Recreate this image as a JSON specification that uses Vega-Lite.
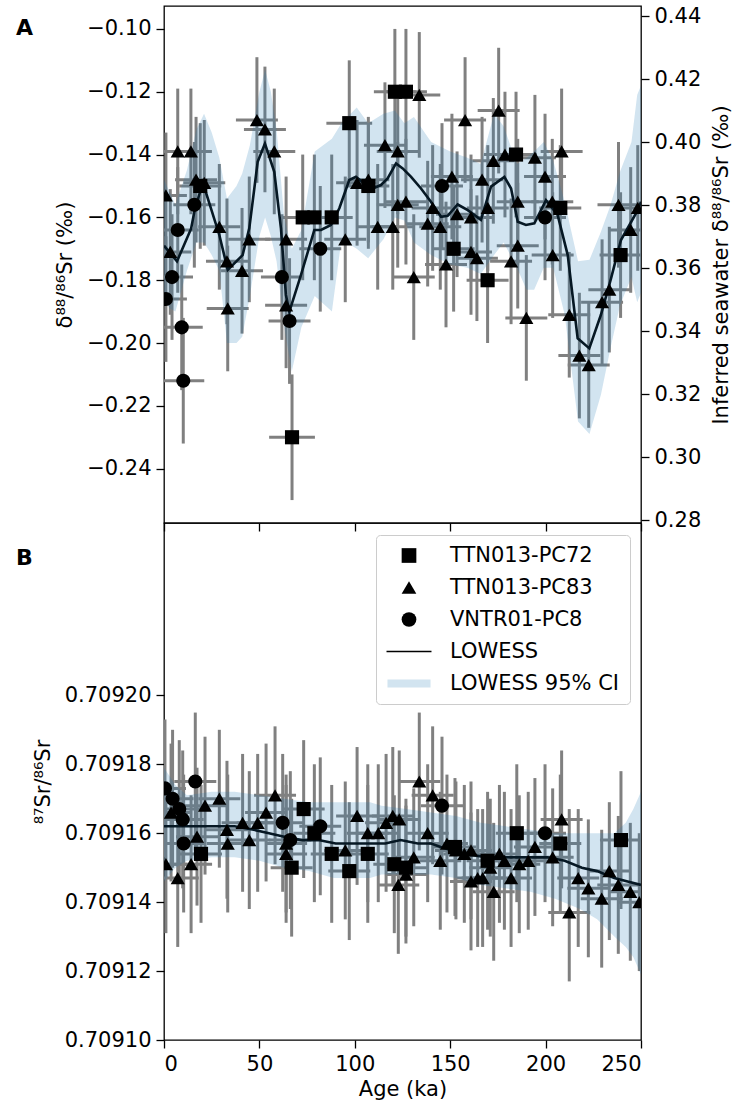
{
  "$schema": "https://vega.github.io/schema/vega-lite/v6.json",
  "padding": {"left": 15, "top": 4, "right": 0, "bottom": 0},
  "bounds": "flush",
  "spacing": 0,
  "config": {
    "font": "DejaVu Sans",
    "view": {"stroke": "#000000", "strokeWidth": 1.3},
    "axis": {
      "grid": false, "domain": false,
      "tickColor": "#000000", "tickSize": 8, "tickWidth": 1.3,
      "labelFont": "DejaVu Sans", "labelFontSize": 21, "labelColor": "#000000", "labelPadding": 5,
      "titleFont": "DejaVu Sans", "titleFontSize": 21, "titleFontWeight": "normal", "titleColor": "#000000"
    },
    "legend": {
      "labelFont": "DejaVu Sans", "labelFontSize": 21, "labelColor": "#000000", "labelLimit": 0,
      "symbolSize": 216, "symbolStrokeWidth": 0
    }
  },
  "datasets": {
    "pa": [
      {"c": "TTN013-PC83", "t": 1.0, "t0": -10, "t1": 12, "v": -0.153, "v0": -0.173, "v1": -0.133},
      {"c": "TTN013-PC83", "t": 3.3, "t0": -7.7, "t1": 14.3, "v": -0.171, "v0": -0.191, "v1": -0.151},
      {"c": "TTN013-PC83", "t": 7.2, "t0": -3.8, "t1": 18.2, "v": -0.139, "v0": -0.159, "v1": -0.119},
      {"c": "TTN013-PC83", "t": 14.1, "t0": 3.1, "t1": 25.1, "v": -0.139, "v0": -0.159, "v1": -0.119},
      {"c": "TTN013-PC83", "t": 16.8, "t0": 5.8, "t1": 27.8, "v": -0.148, "v0": -0.168, "v1": -0.128},
      {"c": "TTN013-PC83", "t": 21.1, "t0": 10.1, "t1": 32.1, "v": -0.149, "v0": -0.169, "v1": -0.129},
      {"c": "TTN013-PC83", "t": 29.0, "t0": 18, "t1": 40, "v": -0.163, "v0": -0.183, "v1": -0.143},
      {"c": "TTN013-PC83", "t": 33.0, "t0": 22, "t1": 44, "v": -0.174, "v0": -0.194, "v1": -0.154},
      {"c": "TTN013-PC83", "t": 33.4, "t0": 22.4, "t1": 44.4, "v": -0.189, "v0": -0.209, "v1": -0.169},
      {"c": "TTN013-PC83", "t": 40.9, "t0": 29.9, "t1": 51.9, "v": -0.177, "v0": -0.197, "v1": -0.157},
      {"c": "TTN013-PC83", "t": 44.7, "t0": 33.7, "t1": 55.7, "v": -0.167, "v0": -0.187, "v1": -0.147},
      {"c": "TTN013-PC83", "t": 48.7, "t0": 37.7, "t1": 59.7, "v": -0.129, "v0": -0.149, "v1": -0.109},
      {"c": "TTN013-PC83", "t": 52.9, "t0": 41.9, "t1": 63.9, "v": -0.132, "v0": -0.152, "v1": -0.112},
      {"c": "TTN013-PC83", "t": 57.8, "t0": 46.8, "t1": 68.8, "v": -0.139, "v0": -0.159, "v1": -0.119},
      {"c": "TTN013-PC83", "t": 64.0, "t0": 53, "t1": 75, "v": -0.167, "v0": -0.187, "v1": -0.147},
      {"c": "TTN013-PC83", "t": 64.0, "t0": 53, "t1": 75, "v": -0.188, "v0": -0.208, "v1": -0.168},
      {"c": "TTN013-PC83", "t": 95.0, "t0": 84, "t1": 106, "v": -0.167, "v0": -0.187, "v1": -0.147},
      {"c": "TTN013-PC83", "t": 101.2, "t0": 90.2, "t1": 112.2, "v": -0.149, "v0": -0.169, "v1": -0.129},
      {"c": "TTN013-PC83", "t": 107.1, "t0": 96.1, "t1": 118.1, "v": -0.148, "v0": -0.168, "v1": -0.128},
      {"c": "TTN013-PC83", "t": 112.0, "t0": 101, "t1": 123, "v": -0.163, "v0": -0.183, "v1": -0.143},
      {"c": "TTN013-PC83", "t": 115.8, "t0": 104.8, "t1": 126.8, "v": -0.137, "v0": -0.157, "v1": -0.117},
      {"c": "TTN013-PC83", "t": 119.9, "t0": 108.9, "t1": 130.9, "v": -0.163, "v0": -0.183, "v1": -0.143},
      {"c": "TTN013-PC83", "t": 122.5, "t0": 111.5, "t1": 133.5, "v": -0.139, "v0": -0.159, "v1": -0.119},
      {"c": "TTN013-PC83", "t": 122.5, "t0": 111.5, "t1": 133.5, "v": -0.156, "v0": -0.176, "v1": -0.136},
      {"c": "TTN013-PC83", "t": 126.8, "t0": 115.8, "t1": 137.8, "v": -0.155, "v0": -0.175, "v1": -0.135},
      {"c": "TTN013-PC83", "t": 130.9, "t0": 119.9, "t1": 141.9, "v": -0.179, "v0": -0.199, "v1": -0.159},
      {"c": "TTN013-PC83", "t": 133.8, "t0": 122.8, "t1": 144.8, "v": -0.121, "v0": -0.141, "v1": -0.101},
      {"c": "TTN013-PC83", "t": 138.2, "t0": 127.2, "t1": 149.2, "v": -0.162, "v0": -0.182, "v1": -0.142},
      {"c": "TTN013-PC83", "t": 140.8, "t0": 129.8, "t1": 151.8, "v": -0.157, "v0": -0.177, "v1": -0.137},
      {"c": "TTN013-PC83", "t": 144.8, "t0": 133.8, "t1": 155.8, "v": -0.163, "v0": -0.183, "v1": -0.143},
      {"c": "TTN013-PC83", "t": 147.8, "t0": 136.8, "t1": 158.8, "v": -0.175, "v0": -0.195, "v1": -0.155},
      {"c": "TTN013-PC83", "t": 150.9, "t0": 139.9, "t1": 161.9, "v": -0.147, "v0": -0.167, "v1": -0.127},
      {"c": "TTN013-PC83", "t": 153.6, "t0": 142.6, "t1": 164.6, "v": -0.159, "v0": -0.179, "v1": -0.139},
      {"c": "TTN013-PC83", "t": 157.8, "t0": 146.8, "t1": 168.8, "v": -0.129, "v0": -0.149, "v1": -0.109},
      {"c": "TTN013-PC83", "t": 160.9, "t0": 149.9, "t1": 171.9, "v": -0.160, "v0": -0.180, "v1": -0.140},
      {"c": "TTN013-PC83", "t": 160.9, "t0": 149.9, "t1": 171.9, "v": -0.171, "v0": -0.191, "v1": -0.151},
      {"c": "TTN013-PC83", "t": 164.0, "t0": 153, "t1": 175, "v": -0.173, "v0": -0.193, "v1": -0.153},
      {"c": "TTN013-PC83", "t": 166.7, "t0": 155.7, "t1": 177.7, "v": -0.148, "v0": -0.168, "v1": -0.128},
      {"c": "TTN013-PC83", "t": 169.7, "t0": 158.7, "t1": 180.7, "v": -0.157, "v0": -0.177, "v1": -0.137},
      {"c": "TTN013-PC83", "t": 172.6, "t0": 161.6, "t1": 183.6, "v": -0.142, "v0": -0.162, "v1": -0.122},
      {"c": "TTN013-PC83", "t": 175.4, "t0": 164.4, "t1": 186.4, "v": -0.126, "v0": -0.146, "v1": -0.106},
      {"c": "TTN013-PC83", "t": 178.7, "t0": 167.7, "t1": 189.7, "v": -0.140, "v0": -0.160, "v1": -0.120},
      {"c": "TTN013-PC83", "t": 181.9, "t0": 170.9, "t1": 192.9, "v": -0.174, "v0": -0.194, "v1": -0.154},
      {"c": "TTN013-PC83", "t": 185.4, "t0": 174.4, "t1": 196.4, "v": -0.155, "v0": -0.175, "v1": -0.135},
      {"c": "TTN013-PC83", "t": 185.4, "t0": 174.4, "t1": 196.4, "v": -0.169, "v0": -0.189, "v1": -0.149},
      {"c": "TTN013-PC83", "t": 189.9, "t0": 178.9, "t1": 200.9, "v": -0.192, "v0": -0.212, "v1": -0.172},
      {"c": "TTN013-PC83", "t": 194.4, "t0": 183.4, "t1": 205.4, "v": -0.141, "v0": -0.161, "v1": -0.121},
      {"c": "TTN013-PC83", "t": 199.7, "t0": 188.7, "t1": 210.7, "v": -0.147, "v0": -0.167, "v1": -0.127},
      {"c": "TTN013-PC83", "t": 203.5, "t0": 192.5, "t1": 214.5, "v": -0.155, "v0": -0.175, "v1": -0.135},
      {"c": "TTN013-PC83", "t": 203.7, "t0": 192.7, "t1": 214.7, "v": -0.172, "v0": -0.192, "v1": -0.152},
      {"c": "TTN013-PC83", "t": 208.4, "t0": 197.4, "t1": 219.4, "v": -0.139, "v0": -0.159, "v1": -0.119},
      {"c": "TTN013-PC83", "t": 212.4, "t0": 201.4, "t1": 223.4, "v": -0.191, "v0": -0.211, "v1": -0.171},
      {"c": "TTN013-PC83", "t": 217.7, "t0": 206.7, "t1": 228.7, "v": -0.204, "v0": -0.224, "v1": -0.184},
      {"c": "TTN013-PC83", "t": 222.6, "t0": 211.6, "t1": 233.6, "v": -0.207, "v0": -0.227, "v1": -0.187},
      {"c": "TTN013-PC83", "t": 229.6, "t0": 218.6, "t1": 240.6, "v": -0.187, "v0": -0.207, "v1": -0.167},
      {"c": "TTN013-PC83", "t": 233.4, "t0": 222.4, "t1": 244.4, "v": -0.183, "v0": -0.203, "v1": -0.163},
      {"c": "TTN013-PC83", "t": 238.2, "t0": 227.2, "t1": 249.2, "v": -0.156, "v0": -0.176, "v1": -0.136},
      {"c": "TTN013-PC83", "t": 244.6, "t0": 233.6, "t1": 255.6, "v": -0.164, "v0": -0.184, "v1": -0.144},
      {"c": "TTN013-PC83", "t": 248.3, "t0": 237.3, "t1": 259.3, "v": -0.157, "v0": -0.177, "v1": -0.137},
      {"c": "TTN013-PC72", "t": 19.0, "t0": 8, "t1": 30, "v": -0.150, "v0": -0.170, "v1": -0.130},
      {"c": "TTN013-PC72", "t": 67.1, "t0": 55.1, "t1": 79.1, "v": -0.230, "v0": -0.250, "v1": -0.210},
      {"c": "TTN013-PC72", "t": 72.7, "t0": 61.7, "t1": 83.7, "v": -0.160, "v0": -0.180, "v1": -0.140},
      {"c": "TTN013-PC72", "t": 78.8, "t0": 67.8, "t1": 89.8, "v": -0.160, "v0": -0.180, "v1": -0.140},
      {"c": "TTN013-PC72", "t": 87.9, "t0": 76.9, "t1": 98.9, "v": -0.160, "v0": -0.180, "v1": -0.140},
      {"c": "TTN013-PC72", "t": 97.1, "t0": 85.1, "t1": 109.1, "v": -0.130, "v0": -0.150, "v1": -0.110},
      {"c": "TTN013-PC72", "t": 107.1, "t0": 96.1, "t1": 118.1, "v": -0.150, "v0": -0.170, "v1": -0.130},
      {"c": "TTN013-PC72", "t": 121.0, "t0": 110, "t1": 132, "v": -0.120, "v0": -0.140, "v1": -0.100},
      {"c": "TTN013-PC72", "t": 126.8, "t0": 115.8, "t1": 137.8, "v": -0.120, "v0": -0.140, "v1": -0.100},
      {"c": "TTN013-PC72", "t": 151.8, "t0": 140.8, "t1": 162.8, "v": -0.170, "v0": -0.190, "v1": -0.150},
      {"c": "TTN013-PC72", "t": 169.6, "t0": 158.6, "t1": 180.6, "v": -0.180, "v0": -0.200, "v1": -0.160},
      {"c": "TTN013-PC72", "t": 184.5, "t0": 173.5, "t1": 195.5, "v": -0.140, "v0": -0.160, "v1": -0.120},
      {"c": "TTN013-PC72", "t": 207.7, "t0": 196.7, "t1": 218.7, "v": -0.157, "v0": -0.177, "v1": -0.137},
      {"c": "TTN013-PC72", "t": 239.3, "t0": 228.3, "t1": 250.3, "v": -0.172, "v0": -0.192, "v1": -0.152},
      {"c": "VNTR01-PC8", "t": 1.0, "t0": -10, "t1": 12, "v": -0.186, "v0": -0.206, "v1": -0.166},
      {"c": "VNTR01-PC8", "t": 4.2, "t0": -6.8, "t1": 15.2, "v": -0.179, "v0": -0.199, "v1": -0.159},
      {"c": "VNTR01-PC8", "t": 7.2, "t0": -3.8, "t1": 18.2, "v": -0.164, "v0": -0.184, "v1": -0.144},
      {"c": "VNTR01-PC8", "t": 9.3, "t0": -1.7, "t1": 20.3, "v": -0.195, "v0": -0.215, "v1": -0.175},
      {"c": "VNTR01-PC8", "t": 10.1, "t0": -0.9, "t1": 21.1, "v": -0.212, "v0": -0.232, "v1": -0.192},
      {"c": "VNTR01-PC8", "t": 15.9, "t0": 4.9, "t1": 26.9, "v": -0.156, "v0": -0.176, "v1": -0.136},
      {"c": "VNTR01-PC8", "t": 61.8, "t0": 50.8, "t1": 72.8, "v": -0.179, "v0": -0.199, "v1": -0.159},
      {"c": "VNTR01-PC8", "t": 65.8, "t0": 54.8, "t1": 76.8, "v": -0.193, "v0": -0.213, "v1": -0.173},
      {"c": "VNTR01-PC8", "t": 81.9, "t0": 70.9, "t1": 92.9, "v": -0.170, "v0": -0.190, "v1": -0.150},
      {"c": "VNTR01-PC8", "t": 145.7, "t0": 134.7, "t1": 156.7, "v": -0.150, "v0": -0.170, "v1": -0.130},
      {"c": "VNTR01-PC8", "t": 199.7, "t0": 188.7, "t1": 210.7, "v": -0.160, "v0": -0.180, "v1": -0.140}
    ],
    "la": [
      {"t": 0, "v": -0.169}, {"t": 6.8, "v": -0.174}, {"t": 14.2, "v": -0.1636}, {"t": 15.9, "v": -0.1582},
      {"t": 19.4, "v": -0.1508}, {"t": 21, "v": -0.1502}, {"t": 29, "v": -0.1656}, {"t": 33.4, "v": -0.1767},
      {"t": 41.2, "v": -0.172}, {"t": 44.7, "v": -0.1635}, {"t": 49.1, "v": -0.1423}, {"t": 52.9, "v": -0.1365},
      {"t": 57.8, "v": -0.1455}, {"t": 61.3, "v": -0.1635}, {"t": 63.9, "v": -0.1847}, {"t": 65.7, "v": -0.19},
      {"t": 71.8, "v": -0.1783}, {"t": 78.8, "v": -0.164}, {"t": 82.3, "v": -0.164}, {"t": 87.5, "v": -0.1624},
      {"t": 91.9, "v": -0.1571}, {"t": 97.1, "v": -0.1481}, {"t": 100.6, "v": -0.1471}, {"t": 105, "v": -0.1492},
      {"t": 109.4, "v": -0.1508}, {"t": 113.7, "v": -0.1497}, {"t": 117.2, "v": -0.1476}, {"t": 121.6, "v": -0.1428},
      {"t": 125.1, "v": -0.1444}, {"t": 129.5, "v": -0.1471}, {"t": 134.7, "v": -0.1508}, {"t": 139.9, "v": -0.155},
      {"t": 145.2, "v": -0.1598}, {"t": 148.7, "v": -0.1595}, {"t": 153.9, "v": -0.1559}, {"t": 159.2, "v": -0.1577},
      {"t": 166.1, "v": -0.1608}, {"t": 171.4, "v": -0.1502}, {"t": 178.4, "v": -0.1471}, {"t": 181.9, "v": -0.1508},
      {"t": 185.4, "v": -0.1614}, {"t": 189.7, "v": -0.1624}, {"t": 194.1, "v": -0.1619}, {"t": 197.6, "v": -0.1577},
      {"t": 200.2, "v": -0.1545}, {"t": 206.3, "v": -0.1592}, {"t": 211.6, "v": -0.172}, {"t": 216.8, "v": -0.1985},
      {"t": 222.9, "v": -0.2017}, {"t": 229, "v": -0.191}, {"t": 234.3, "v": -0.1794}, {"t": 239.5, "v": -0.1672},
      {"t": 248.3, "v": -0.1577}, {"t": 250, "v": -0.155}
    ],
    "ca": [
      {"t": 0, "lo": -0.186, "hi": -0.148}, {"t": 3, "lo": -0.189, "hi": -0.152}, {"t": 6, "lo": -0.190, "hi": -0.156},
      {"t": 12, "lo": -0.177, "hi": -0.145}, {"t": 17, "lo": -0.168, "hi": -0.132}, {"t": 21, "lo": -0.168, "hi": -0.127},
      {"t": 25, "lo": -0.172, "hi": -0.133}, {"t": 29, "lo": -0.177, "hi": -0.141}, {"t": 33, "lo": -0.200, "hi": -0.154},
      {"t": 38, "lo": -0.200, "hi": -0.150}, {"t": 41, "lo": -0.198, "hi": -0.146}, {"t": 45, "lo": -0.185, "hi": -0.137},
      {"t": 50, "lo": -0.166, "hi": -0.120}, {"t": 53, "lo": -0.160, "hi": -0.113}, {"t": 56, "lo": -0.166, "hi": -0.120},
      {"t": 59, "lo": -0.174, "hi": -0.132}, {"t": 63, "lo": -0.195, "hi": -0.160}, {"t": 67, "lo": -0.209, "hi": -0.170},
      {"t": 72, "lo": -0.195, "hi": -0.164}, {"t": 79, "lo": -0.185, "hi": -0.139}, {"t": 88, "lo": -0.190, "hi": -0.135},
      {"t": 93, "lo": -0.167, "hi": -0.130}, {"t": 101, "lo": -0.170, "hi": -0.125}, {"t": 107, "lo": -0.173, "hi": -0.130},
      {"t": 115, "lo": -0.167, "hi": -0.127}, {"t": 121, "lo": -0.160, "hi": -0.126}, {"t": 126, "lo": -0.161, "hi": -0.130},
      {"t": 131, "lo": -0.168, "hi": -0.128}, {"t": 140, "lo": -0.172, "hi": -0.136}, {"t": 150, "lo": -0.175, "hi": -0.139},
      {"t": 159, "lo": -0.176, "hi": -0.141}, {"t": 166, "lo": -0.178, "hi": -0.143}, {"t": 173, "lo": -0.172, "hi": -0.127},
      {"t": 178, "lo": -0.168, "hi": -0.131}, {"t": 185, "lo": -0.176, "hi": -0.143}, {"t": 190, "lo": -0.183, "hi": -0.141},
      {"t": 194, "lo": -0.183, "hi": -0.139}, {"t": 199, "lo": -0.176, "hi": -0.136}, {"t": 204, "lo": -0.176, "hi": -0.142},
      {"t": 210, "lo": -0.191, "hi": -0.155}, {"t": 217, "lo": -0.225, "hi": -0.174}, {"t": 223, "lo": -0.229, "hi": -0.1735},
      {"t": 229, "lo": -0.2165, "hi": -0.1646}, {"t": 234, "lo": -0.2017, "hi": -0.1561}, {"t": 239, "lo": -0.188, "hi": -0.1455},
      {"t": 245, "lo": -0.179, "hi": -0.136}, {"t": 248, "lo": -0.187, "hi": -0.121}, {"t": 250, "lo": -0.184, "hi": -0.118}
    ],
    "pb": [
      {"c": "VNTR01-PC8", "t": 0.5, "t0": -10.5, "t1": 11.5, "r": 0.709173, "r0": 0.709153, "r1": 0.709193},
      {"c": "VNTR01-PC8", "t": 4.5, "t0": -6.5, "t1": 15.5, "r": 0.709170, "r0": 0.709150, "r1": 0.709190},
      {"c": "VNTR01-PC8", "t": 8.0, "t0": -3, "t1": 19, "r": 0.709167, "r0": 0.709147, "r1": 0.709187},
      {"c": "VNTR01-PC8", "t": 9.8, "t0": -1.2, "t1": 20.8, "r": 0.709164, "r0": 0.709144, "r1": 0.709184},
      {"c": "VNTR01-PC8", "t": 10.3, "t0": -0.7, "t1": 21.3, "r": 0.709157, "r0": 0.709137, "r1": 0.709177},
      {"c": "VNTR01-PC8", "t": 16.4, "t0": 5.4, "t1": 27.4, "r": 0.709175, "r0": 0.709155, "r1": 0.709195},
      {"c": "VNTR01-PC8", "t": 62.2, "t0": 51.2, "t1": 73.2, "r": 0.709163, "r0": 0.709143, "r1": 0.709183},
      {"c": "VNTR01-PC8", "t": 66.2, "t0": 55.2, "t1": 77.2, "r": 0.709158, "r0": 0.709138, "r1": 0.709178},
      {"c": "VNTR01-PC8", "t": 81.9, "t0": 70.9, "t1": 92.9, "r": 0.709162, "r0": 0.709142, "r1": 0.709182},
      {"c": "VNTR01-PC8", "t": 145.7, "t0": 134.7, "t1": 156.7, "r": 0.709168, "r0": 0.709148, "r1": 0.709188},
      {"c": "VNTR01-PC8", "t": 199.7, "t0": 188.7, "t1": 210.7, "r": 0.709160, "r0": 0.709140, "r1": 0.709180},
      {"c": "TTN013-PC72", "t": 19.4, "t0": 8.4, "t1": 30.4, "r": 0.709154, "r0": 0.709134, "r1": 0.709174},
      {"c": "TTN013-PC72", "t": 66.9, "t0": 55.9, "t1": 77.9, "r": 0.709150, "r0": 0.709130, "r1": 0.709170},
      {"c": "TTN013-PC72", "t": 73.2, "t0": 62.2, "t1": 84.2, "r": 0.709167, "r0": 0.709147, "r1": 0.709187},
      {"c": "TTN013-PC72", "t": 78.8, "t0": 67.8, "t1": 89.8, "r": 0.709160, "r0": 0.709140, "r1": 0.709180},
      {"c": "TTN013-PC72", "t": 87.9, "t0": 76.9, "t1": 98.9, "r": 0.709154, "r0": 0.709134, "r1": 0.709174},
      {"c": "TTN013-PC72", "t": 97.1, "t0": 86.1, "t1": 108.1, "r": 0.709149, "r0": 0.709129, "r1": 0.709169},
      {"c": "TTN013-PC72", "t": 106.8, "t0": 95.8, "t1": 117.8, "r": 0.709154, "r0": 0.709134, "r1": 0.709174},
      {"c": "TTN013-PC72", "t": 120.7, "t0": 109.7, "t1": 131.7, "r": 0.709151, "r0": 0.709131, "r1": 0.709171},
      {"c": "TTN013-PC72", "t": 126.8, "t0": 115.8, "t1": 137.8, "r": 0.709150, "r0": 0.709130, "r1": 0.709170},
      {"c": "TTN013-PC72", "t": 152.5, "t0": 141.5, "t1": 163.5, "r": 0.709156, "r0": 0.709136, "r1": 0.709176},
      {"c": "TTN013-PC72", "t": 169.6, "t0": 158.6, "t1": 180.6, "r": 0.709152, "r0": 0.709132, "r1": 0.709172},
      {"c": "TTN013-PC72", "t": 184.9, "t0": 173.9, "t1": 195.9, "r": 0.709160, "r0": 0.709140, "r1": 0.709180},
      {"c": "TTN013-PC72", "t": 207.7, "t0": 196.7, "t1": 218.7, "r": 0.709157, "r0": 0.709137, "r1": 0.709177},
      {"c": "TTN013-PC72", "t": 239.5, "t0": 228.5, "t1": 250.5, "r": 0.709158, "r0": 0.709138, "r1": 0.709178},
      {"c": "TTN013-PC83", "t": 1.0, "t0": -10, "t1": 12, "r": 0.709151, "r0": 0.709131, "r1": 0.709171},
      {"c": "TTN013-PC83", "t": 3.7, "t0": -7.3, "t1": 14.7, "r": 0.709166, "r0": 0.709146, "r1": 0.709186},
      {"c": "TTN013-PC83", "t": 7.2, "t0": -3.8, "t1": 18.2, "r": 0.709147, "r0": 0.709127, "r1": 0.709167},
      {"c": "TTN013-PC83", "t": 14.2, "t0": 3.2, "t1": 25.2, "r": 0.709151, "r0": 0.709131, "r1": 0.709171},
      {"c": "TTN013-PC83", "t": 17.3, "t0": 6.3, "t1": 28.3, "r": 0.709159, "r0": 0.709139, "r1": 0.709179},
      {"c": "TTN013-PC83", "t": 21.5, "t0": 10.5, "t1": 32.5, "r": 0.709168, "r0": 0.709148, "r1": 0.709188},
      {"c": "TTN013-PC83", "t": 29.0, "t0": 18, "t1": 40, "r": 0.709170, "r0": 0.709150, "r1": 0.709190},
      {"c": "TTN013-PC83", "t": 33.0, "t0": 22, "t1": 44, "r": 0.709161, "r0": 0.709141, "r1": 0.709181},
      {"c": "TTN013-PC83", "t": 33.4, "t0": 22.4, "t1": 44.4, "r": 0.709157, "r0": 0.709137, "r1": 0.709177},
      {"c": "TTN013-PC83", "t": 41.2, "t0": 30.2, "t1": 52.2, "r": 0.709163, "r0": 0.709143, "r1": 0.709183},
      {"c": "TTN013-PC83", "t": 44.7, "t0": 33.7, "t1": 55.7, "r": 0.709158, "r0": 0.709138, "r1": 0.709178},
      {"c": "TTN013-PC83", "t": 49.1, "t0": 38.1, "t1": 60.1, "r": 0.709163, "r0": 0.709143, "r1": 0.709183},
      {"c": "TTN013-PC83", "t": 53.5, "t0": 42.5, "t1": 64.5, "r": 0.709166, "r0": 0.709146, "r1": 0.709186},
      {"c": "TTN013-PC83", "t": 58.2, "t0": 47.2, "t1": 69.2, "r": 0.709171, "r0": 0.709151, "r1": 0.709191},
      {"c": "TTN013-PC83", "t": 64.0, "t0": 53, "t1": 75, "r": 0.709157, "r0": 0.709137, "r1": 0.709177},
      {"c": "TTN013-PC83", "t": 64.0, "t0": 53, "t1": 75, "r": 0.709154, "r0": 0.709134, "r1": 0.709174},
      {"c": "TTN013-PC83", "t": 95.0, "t0": 84, "t1": 106, "r": 0.709155, "r0": 0.709135, "r1": 0.709175},
      {"c": "TTN013-PC83", "t": 101.2, "t0": 90.2, "t1": 112.2, "r": 0.709165, "r0": 0.709145, "r1": 0.709185},
      {"c": "TTN013-PC83", "t": 106.8, "t0": 95.8, "t1": 117.8, "r": 0.709160, "r0": 0.709140, "r1": 0.709180},
      {"c": "TTN013-PC83", "t": 112.3, "t0": 101.3, "t1": 123.3, "r": 0.709160, "r0": 0.709140, "r1": 0.709180},
      {"c": "TTN013-PC83", "t": 116.4, "t0": 105.4, "t1": 127.4, "r": 0.709163, "r0": 0.709143, "r1": 0.709183},
      {"c": "TTN013-PC83", "t": 119.9, "t0": 108.9, "t1": 130.9, "r": 0.709165, "r0": 0.709145, "r1": 0.709185},
      {"c": "TTN013-PC83", "t": 123.3, "t0": 112.3, "t1": 134.3, "r": 0.709164, "r0": 0.709144, "r1": 0.709184},
      {"c": "TTN013-PC83", "t": 122.8, "t0": 111.8, "t1": 133.8, "r": 0.709145, "r0": 0.709125, "r1": 0.709165},
      {"c": "TTN013-PC83", "t": 126.8, "t0": 115.8, "t1": 137.8, "r": 0.709148, "r0": 0.709128, "r1": 0.709168},
      {"c": "TTN013-PC83", "t": 130.9, "t0": 119.9, "t1": 141.9, "r": 0.709153, "r0": 0.709133, "r1": 0.709173},
      {"c": "TTN013-PC83", "t": 133.8, "t0": 122.8, "t1": 144.8, "r": 0.709175, "r0": 0.709155, "r1": 0.709195},
      {"c": "TTN013-PC83", "t": 138.2, "t0": 127.2, "t1": 149.2, "r": 0.709160, "r0": 0.709140, "r1": 0.709180},
      {"c": "TTN013-PC83", "t": 140.8, "t0": 129.8, "t1": 151.8, "r": 0.709171, "r0": 0.709151, "r1": 0.709191},
      {"c": "TTN013-PC83", "t": 144.8, "t0": 133.8, "t1": 155.8, "r": 0.709152, "r0": 0.709132, "r1": 0.709172},
      {"c": "TTN013-PC83", "t": 148.3, "t0": 137.3, "t1": 159.3, "r": 0.709157, "r0": 0.709137, "r1": 0.709177},
      {"c": "TTN013-PC83", "t": 153.0, "t0": 142, "t1": 164, "r": 0.709155, "r0": 0.709135, "r1": 0.709175},
      {"c": "TTN013-PC83", "t": 157.4, "t0": 146.4, "t1": 168.4, "r": 0.709154, "r0": 0.709134, "r1": 0.709174},
      {"c": "TTN013-PC83", "t": 160.9, "t0": 149.9, "t1": 171.9, "r": 0.709155, "r0": 0.709135, "r1": 0.709175},
      {"c": "TTN013-PC83", "t": 160.9, "t0": 149.9, "t1": 171.9, "r": 0.709146, "r0": 0.709126, "r1": 0.709166},
      {"c": "TTN013-PC83", "t": 164.4, "t0": 153.4, "t1": 175.4, "r": 0.709147, "r0": 0.709127, "r1": 0.709167},
      {"c": "TTN013-PC83", "t": 167.0, "t0": 156, "t1": 178, "r": 0.709147, "r0": 0.709127, "r1": 0.709167},
      {"c": "TTN013-PC83", "t": 171.0, "t0": 160, "t1": 182, "r": 0.709150, "r0": 0.709130, "r1": 0.709170},
      {"c": "TTN013-PC83", "t": 172.8, "t0": 161.8, "t1": 183.8, "r": 0.709143, "r0": 0.709123, "r1": 0.709163},
      {"c": "TTN013-PC83", "t": 175.8, "t0": 164.8, "t1": 186.8, "r": 0.709154, "r0": 0.709134, "r1": 0.709174},
      {"c": "TTN013-PC83", "t": 178.4, "t0": 167.4, "t1": 189.4, "r": 0.709152, "r0": 0.709132, "r1": 0.709172},
      {"c": "TTN013-PC83", "t": 181.9, "t0": 170.9, "t1": 192.9, "r": 0.709147, "r0": 0.709127, "r1": 0.709167},
      {"c": "TTN013-PC83", "t": 186.2, "t0": 175.2, "t1": 197.2, "r": 0.709151, "r0": 0.709131, "r1": 0.709171},
      {"c": "TTN013-PC83", "t": 190.9, "t0": 179.9, "t1": 201.9, "r": 0.709152, "r0": 0.709132, "r1": 0.709172},
      {"c": "TTN013-PC83", "t": 194.4, "t0": 183.4, "t1": 205.4, "r": 0.709156, "r0": 0.709136, "r1": 0.709176},
      {"c": "TTN013-PC83", "t": 203.7, "t0": 192.7, "t1": 214.7, "r": 0.709153, "r0": 0.709133, "r1": 0.709173},
      {"c": "TTN013-PC83", "t": 208.4, "t0": 197.4, "t1": 219.4, "r": 0.709164, "r0": 0.709144, "r1": 0.709184},
      {"c": "TTN013-PC83", "t": 212.4, "t0": 201.4, "t1": 223.4, "r": 0.709137, "r0": 0.709117, "r1": 0.709167},
      {"c": "TTN013-PC83", "t": 217.1, "t0": 206.1, "t1": 228.1, "r": 0.709147, "r0": 0.709127, "r1": 0.709167},
      {"c": "TTN013-PC83", "t": 222.4, "t0": 211.4, "t1": 233.4, "r": 0.709144, "r0": 0.709124, "r1": 0.709164},
      {"c": "TTN013-PC83", "t": 229.4, "t0": 218.4, "t1": 240.4, "r": 0.709141, "r0": 0.709121, "r1": 0.709161},
      {"c": "TTN013-PC83", "t": 233.4, "t0": 222.4, "t1": 244.4, "r": 0.709149, "r0": 0.709129, "r1": 0.709169},
      {"c": "TTN013-PC83", "t": 238.1, "t0": 227.1, "t1": 249.1, "r": 0.709145, "r0": 0.709125, "r1": 0.709165},
      {"c": "TTN013-PC83", "t": 244.4, "t0": 233.4, "t1": 255.4, "r": 0.709143, "r0": 0.709123, "r1": 0.709163},
      {"c": "TTN013-PC83", "t": 249.1, "t0": 238.1, "t1": 260.1, "r": 0.709140, "r0": 0.709120, "r1": 0.709160}
    ],
    "lb": [
      {"t": 0, "r": 0.709162}, {"t": 20, "r": 0.709162}, {"t": 37, "r": 0.709162}, {"t": 47, "r": 0.709161},
      {"t": 55, "r": 0.70916}, {"t": 63, "r": 0.709159}, {"t": 72, "r": 0.709158}, {"t": 81, "r": 0.709158},
      {"t": 90, "r": 0.709157}, {"t": 100, "r": 0.709157}, {"t": 108, "r": 0.709157}, {"t": 116, "r": 0.709157},
      {"t": 124, "r": 0.709158}, {"t": 133, "r": 0.709157}, {"t": 140, "r": 0.709157}, {"t": 145, "r": 0.709156},
      {"t": 157, "r": 0.709154}, {"t": 170, "r": 0.709153}, {"t": 182, "r": 0.709153}, {"t": 192, "r": 0.709153},
      {"t": 201, "r": 0.709153}, {"t": 210, "r": 0.709152}, {"t": 219, "r": 0.70915}, {"t": 227, "r": 0.709149},
      {"t": 236, "r": 0.709147}, {"t": 243, "r": 0.709146}, {"t": 250, "r": 0.709145}
    ],
    "cb": [
      {"t": 0, "lo": 0.709146, "hi": 0.709179}, {"t": 6, "lo": 0.70915, "hi": 0.709174}, {"t": 12, "lo": 0.709152, "hi": 0.709171},
      {"t": 25, "lo": 0.709153, "hi": 0.709172}, {"t": 37, "lo": 0.709153, "hi": 0.709172}, {"t": 50, "lo": 0.709152, "hi": 0.709171},
      {"t": 63, "lo": 0.70915, "hi": 0.70917}, {"t": 76, "lo": 0.709149, "hi": 0.709169}, {"t": 89, "lo": 0.709147, "hi": 0.709169},
      {"t": 108, "lo": 0.709147, "hi": 0.709169}, {"t": 114, "lo": 0.709148, "hi": 0.709168}, {"t": 127, "lo": 0.709148, "hi": 0.709167},
      {"t": 140, "lo": 0.709148, "hi": 0.709166}, {"t": 153, "lo": 0.709147, "hi": 0.709165}, {"t": 166, "lo": 0.709145, "hi": 0.709163},
      {"t": 179, "lo": 0.709144, "hi": 0.709162}, {"t": 192, "lo": 0.709143, "hi": 0.709161}, {"t": 205, "lo": 0.709141, "hi": 0.70916},
      {"t": 218, "lo": 0.709138, "hi": 0.70916}, {"t": 227, "lo": 0.709135, "hi": 0.70916}, {"t": 236, "lo": 0.70913, "hi": 0.70916},
      {"t": 242, "lo": 0.709127, "hi": 0.709163}, {"t": 246, "lo": 0.709124, "hi": 0.709167}, {"t": 250, "lo": 0.709119, "hi": 0.709172}
    ]
  },
  "resolve": {"scale": {"shape": "independent", "color": "independent"}, "legend": {"shape": "independent", "color": "independent"}},
  "vconcat": [
    {
      "width": 477,
      "height": 517,
      "title": {"text": "A", "anchor": "start", "frame": "group", "orient": "top", "offset": 0, "dx": -148, "dy": 52, "baseline": "alphabetic", "fontSize": 22, "fontWeight": "bold", "font": "DejaVu Sans", "color": "#000000"},
      "layer": [
        {
          "layer": [
            {
              "data": {"name": "pa"},
              "mark": {"type": "rule", "color": "#808080", "strokeWidth": 3, "clip": true},
              "encoding": {
                "x": {"field": "t0", "type": "quantitative", "scale": {"domain": [0, 250], "nice": false}, "axis": {"values": [0, 50, 100, 150, 200, 250], "labels": false, "title": null}},
                "x2": {"field": "t1"},
                "y": {"field": "v", "type": "quantitative", "scale": {"domain": [-0.2573, -0.0927], "nice": false}, "axis": {"values": [-0.24, -0.22, -0.2, -0.18, -0.16, -0.14, -0.12, -0.1], "format": ".2f", "title": "δ⁸⁸/⁸⁶Sr (‰)", "titlePadding": 11}}
              }
            },
            {
              "data": {"name": "pa"},
              "mark": {"type": "rule", "color": "#808080", "strokeWidth": 3, "clip": true},
              "encoding": {
                "x": {"field": "t", "type": "quantitative", "scale": {"domain": [0, 250], "nice": false}, "axis": {"values": [0, 50, 100, 150, 200, 250], "labels": false, "title": null}},
                "y": {"field": "v0", "type": "quantitative", "scale": {"domain": [-0.2573, -0.0927], "nice": false}, "axis": {"values": [-0.24, -0.22, -0.2, -0.18, -0.16, -0.14, -0.12, -0.1], "format": ".2f", "title": "δ⁸⁸/⁸⁶Sr (‰)", "titlePadding": 11}},
                "y2": {"field": "v1"}
              }
            },
            {
              "data": {"name": "la"},
              "mark": {"type": "line", "color": "#000000", "strokeWidth": 2.6, "clip": true},
              "encoding": {
                "x": {"field": "t", "type": "quantitative", "scale": {"domain": [0, 250], "nice": false}, "axis": {"values": [0, 50, 100, 150, 200, 250], "labels": false, "title": null}},
                "y": {"field": "v", "type": "quantitative", "scale": {"domain": [-0.2573, -0.0927], "nice": false}, "axis": {"values": [-0.24, -0.22, -0.2, -0.18, -0.16, -0.14, -0.12, -0.1], "format": ".2f", "title": "δ⁸⁸/⁸⁶Sr (‰)", "titlePadding": 11}}
              }
            },
            {
              "data": {"name": "ca"},
              "mark": {"type": "area", "color": "#1f77b4", "opacity": 0.2, "clip": true},
              "encoding": {
                "x": {"field": "t", "type": "quantitative", "scale": {"domain": [0, 250], "nice": false}, "axis": {"values": [0, 50, 100, 150, 200, 250], "labels": false, "title": null}},
                "y": {"field": "lo", "type": "quantitative", "scale": {"domain": [-0.2573, -0.0927], "nice": false}, "axis": {"values": [-0.24, -0.22, -0.2, -0.18, -0.16, -0.14, -0.12, -0.1], "format": ".2f", "title": "δ⁸⁸/⁸⁶Sr (‰)", "titlePadding": 11}},
                "y2": {"field": "hi"}
              }
            },
            {
              "data": {"name": "pa"},
              "mark": {"type": "point", "filled": true, "opacity": 1, "size": 200, "strokeWidth": 0, "clip": true},
              "encoding": {
                "x": {"field": "t", "type": "quantitative", "scale": {"domain": [0, 250], "nice": false}, "axis": {"values": [0, 50, 100, 150, 200, 250], "labels": false, "title": null}},
                "y": {"field": "v", "type": "quantitative", "scale": {"domain": [-0.2573, -0.0927], "nice": false}, "axis": {"values": [-0.24, -0.22, -0.2, -0.18, -0.16, -0.14, -0.12, -0.1], "format": ".2f", "title": "δ⁸⁸/⁸⁶Sr (‰)", "titlePadding": 11}},
                "shape": {"field": "c", "type": "nominal", "scale": {"domain": ["TTN013-PC72", "TTN013-PC83", "VNTR01-PC8"], "range": ["square", "triangle-up", "circle"]}, "legend": null},
                "color": {"value": "#000000"}
              }
            }
          ]
        },
        {
          "data": {"values": [{"s": 0.28}, {"s": 0.44}]},
          "mark": {"type": "point", "opacity": 0},
          "encoding": {
            "y": {"field": "s", "type": "quantitative", "scale": {"domain": [0.2792, 0.4432], "nice": false},
              "axis": {"orient": "right", "values": [0.28, 0.3, 0.32, 0.34, 0.36, 0.38, 0.4, 0.42, 0.44], "format": ".2f", "title": "Inferred seawater δ⁸⁸/⁸⁶Sr (‰)", "titleAngle": 270, "titleBaseline": "top", "titlePadding": 10}}
          }
        }
      ],
      "resolve": {"scale": {"y": "independent"}}
    },
    {
      "width": 477,
      "height": 517,
      "title": {"text": "B", "anchor": "start", "frame": "group", "orient": "top", "offset": 0, "dx": -148, "dy": 64, "baseline": "alphabetic", "fontSize": 22, "fontWeight": "bold", "font": "DejaVu Sans", "color": "#000000"},
      "layer": [
        {
          "data": {"name": "pb"},
          "mark": {"type": "rule", "color": "#808080", "strokeWidth": 3, "clip": true},
          "encoding": {
            "x": {"field": "t0", "type": "quantitative", "scale": {"domain": [0, 250], "nice": false}, "axis": {"values": [0, 50, 100, 150, 200, 250], "title": "Age (ka)"}},
            "x2": {"field": "t1"},
            "y": {"field": "r", "type": "quantitative", "scale": {"domain": [0.7091, 0.70925], "nice": false, "zero": false}, "axis": {"values": [0.7091, 0.70912, 0.70914, 0.70916, 0.70918, 0.7092], "format": ".5f", "title": "⁸⁷Sr/⁸⁶Sr", "titlePadding": 11}}
          }
        },
        {
          "data": {"name": "pb"},
          "mark": {"type": "rule", "color": "#808080", "strokeWidth": 3, "clip": true},
          "encoding": {
            "x": {"field": "t", "type": "quantitative", "scale": {"domain": [0, 250], "nice": false}, "axis": {"values": [0, 50, 100, 150, 200, 250], "title": "Age (ka)"}},
            "y": {"field": "r0", "type": "quantitative", "scale": {"domain": [0.7091, 0.70925], "nice": false, "zero": false}, "axis": {"values": [0.7091, 0.70912, 0.70914, 0.70916, 0.70918, 0.7092], "format": ".5f", "title": "⁸⁷Sr/⁸⁶Sr", "titlePadding": 11}},
            "y2": {"field": "r1"}
          }
        },
        {
          "data": {"name": "lb"},
          "mark": {"type": "line", "color": "#000000", "strokeWidth": 2.6, "clip": true},
          "encoding": {
            "x": {"field": "t", "type": "quantitative", "scale": {"domain": [0, 250], "nice": false}, "axis": {"values": [0, 50, 100, 150, 200, 250], "title": "Age (ka)"}},
            "y": {"field": "r", "type": "quantitative", "scale": {"domain": [0.7091, 0.70925], "nice": false, "zero": false}, "axis": {"values": [0.7091, 0.70912, 0.70914, 0.70916, 0.70918, 0.7092], "format": ".5f", "title": "⁸⁷Sr/⁸⁶Sr", "titlePadding": 11}}
          }
        },
        {
          "data": {"name": "cb"},
          "mark": {"type": "area", "color": "#1f77b4", "opacity": 0.2, "clip": true},
          "encoding": {
            "x": {"field": "t", "type": "quantitative", "scale": {"domain": [0, 250], "nice": false}, "axis": {"values": [0, 50, 100, 150, 200, 250], "title": "Age (ka)"}},
            "y": {"field": "lo", "type": "quantitative", "scale": {"domain": [0.7091, 0.70925], "nice": false, "zero": false}, "axis": {"values": [0.7091, 0.70912, 0.70914, 0.70916, 0.70918, 0.7092], "format": ".5f", "title": "⁸⁷Sr/⁸⁶Sr", "titlePadding": 11}},
            "y2": {"field": "hi"}
          }
        },
        {
          "data": {"name": "pb"},
          "mark": {"type": "point", "filled": true, "opacity": 1, "size": 200, "strokeWidth": 0, "clip": true},
          "encoding": {
            "x": {"field": "t", "type": "quantitative", "scale": {"domain": [0, 250], "nice": false}, "axis": {"values": [0, 50, 100, 150, 200, 250], "title": "Age (ka)"}},
            "y": {"field": "r", "type": "quantitative", "scale": {"domain": [0.7091, 0.70925], "nice": false, "zero": false}, "axis": {"values": [0.7091, 0.70912, 0.70914, 0.70916, 0.70918, 0.7092], "format": ".5f", "title": "⁸⁷Sr/⁸⁶Sr", "titlePadding": 11}},
            "shape": {"field": "c", "type": "nominal",
              "scale": {"domain": ["TTN013-PC72", "TTN013-PC83", "VNTR01-PC8", "LOWESS", "LOWESS 95% CI"], "range": ["square", "triangle-up", "circle", "M-3.06,-0.09H3.06V0.09H-3.06Z", "M-2.93,-0.53H2.93V0.53H-2.93Z"]},
              "legend": {"title": null, "orient": "top-right", "offset": 11.5, "padding": 10, "rowPadding": 10, "symbolOffset": 12.5, "labelOffset": 30.5, "symbolSize": 216, "labelFontSize": 21, "labelLimit": 0, "strokeColor": "#cccccc", "fillColor": "rgba(255,255,255,0.8)", "cornerRadius": 4}},
            "color": {"field": "c", "type": "nominal",
              "scale": {"domain": ["TTN013-PC72", "TTN013-PC83", "VNTR01-PC8", "LOWESS", "LOWESS 95% CI"], "range": ["#000000", "#000000", "#000000", "#000000", "#d2e4f0"]},
              "legend": {"title": null, "orient": "top-right", "offset": 11.5, "padding": 10, "rowPadding": 10, "symbolOffset": 12.5, "labelOffset": 30.5, "symbolSize": 216, "labelFontSize": 21, "labelLimit": 0, "strokeColor": "#cccccc", "fillColor": "rgba(255,255,255,0.8)", "cornerRadius": 4}}
          }
        }
      ]
    }
  ]
}
